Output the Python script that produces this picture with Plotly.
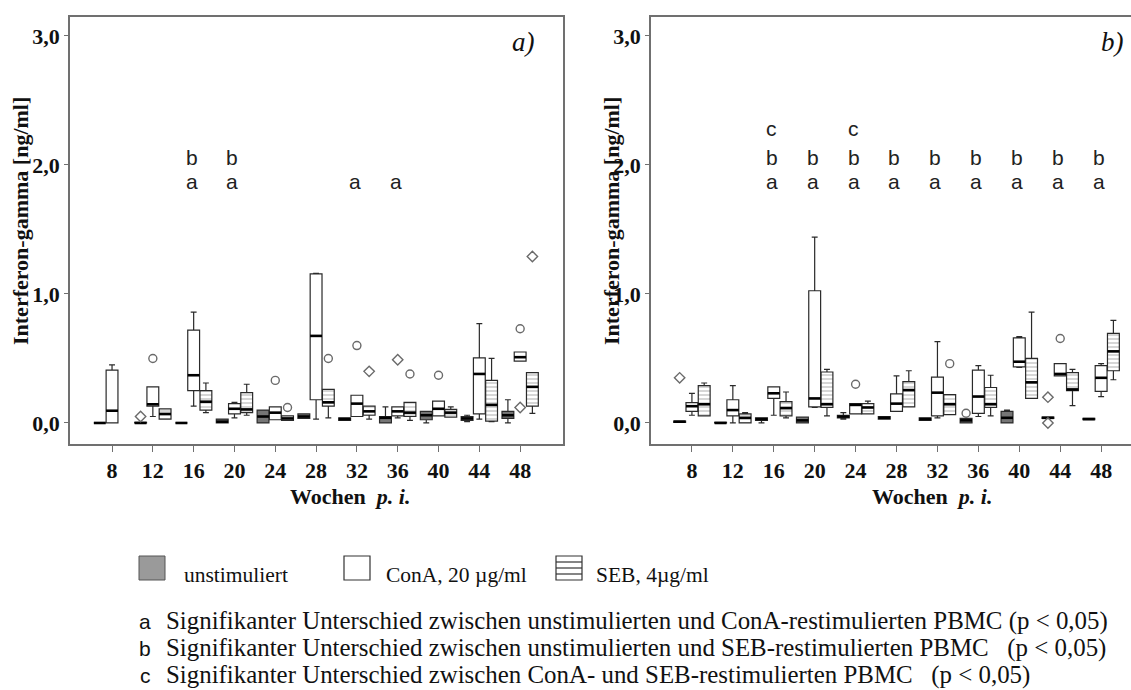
import plotly.graph_objects as go

W, H = 1131, 690

WEEKS = ["8", "12", "16", "20", "24", "28", "32", "36", "40", "44", "48"]
Y_TICKS = [0, 1, 2, 3]
Y_TICK_TEXT = ["0,0", "1,0", "2,0", "3,0"]

# ---- Panel a) : [q1, median, q3, lower whisker, upper whisker] per week (None = no box)
A_UNSTIM = [
    [0, 0, 0, 0, 0], [0, 0, 0.005, 0, 0.005], [0, 0, 0, 0, 0], [0, 0.01, 0.03, 0, 0.03],
    [0, 0.05, 0.10, 0, 0.10], [0.035, 0.05, 0.07, 0.035, 0.07], [0.02, 0.03, 0.04, 0.02, 0.04],
    [0, 0.04, 0.05, 0, 0.125], [0.025, 0.06, 0.09, 0, 0.09], [0.02, 0.035, 0.05, 0.01, 0.06],
    [0.035, 0.06, 0.09, 0, 0.18]]
A_CONA = [
    [0, 0.095, 0.41, 0, 0.45], [0.13, 0.145, 0.28, 0.05, 0.28], [0.25, 0.37, 0.72, 0.13, 0.86],
    [0.07, 0.11, 0.15, 0.04, 0.16], [0.025, 0.08, 0.125, 0.025, 0.125], [0.18, 0.675, 1.155, 0.03, 1.16],
    [0.05, 0.15, 0.215, 0.05, 0.215], [0.055, 0.09, 0.125, 0.04, 0.125], [0.055, 0.11, 0.17, 0.055, 0.17],
    [0.07, 0.38, 0.505, 0.03, 0.77], [0.48, 0.51, 0.55, 0.48, 0.55]]
A_SEB = [
    None, [0.03, 0.07, 0.11, 0.03, 0.11], [0.10, 0.165, 0.25, 0.08, 0.31], [0.08, 0.105, 0.235, 0.06, 0.30],
    [0.02, 0.035, 0.055, 0.02, 0.055], [0.13, 0.16, 0.26, 0.04, 0.26], [0.06, 0.09, 0.13, 0.03, 0.13],
    [0.05, 0.08, 0.16, 0.02, 0.16], [0.045, 0.08, 0.105, 0.045, 0.125], [0.015, 0.14, 0.33, 0.01, 0.50],
    [0.13, 0.28, 0.39, 0.075, 0.39]]
# outliers: week index, group (0 unstim, 1 ConA, 2 SEB), value, symbol
A_OUT_WEEK = [1, 1, 4, 4, 5, 6, 6, 7, 7, 8, 10, 10, 10]
A_OUT_GROUP = [0, 1, 1, 2, 2, 1, 2, 1, 2, 1, 1, 1, 2]
A_OUT_VAL = [0.05, 0.50, 0.33, 0.12, 0.50, 0.60, 0.40, 0.49, 0.38, 0.37, 0.73, 0.12, 1.29]
A_OUT_SYM = ["d", "o", "o", "o", "o", "o", "d", "d", "o", "o", "o", "d", "d"]
A_SIG_A = [2, 3, 6, 7]
A_SIG_B = [2, 3]
A_SIG_C = []

# ---- Panel b)
B_UNSTIM = [
    [0.005, 0.01, 0.015, 0.005, 0.015], [0, 0, 0.005, 0, 0.005], [0.02, 0.03, 0.04, 0, 0.04],
    [0, 0.02, 0.045, 0, 0.045], [0.04, 0.05, 0.06, 0.03, 0.08], [0.03, 0.04, 0.05, 0.03, 0.05],
    [0.02, 0.03, 0.04, 0.02, 0.04], [0, 0.02, 0.035, 0, 0.035], [0, 0.04, 0.09, 0, 0.10],
    [0.035, 0.04, 0.045, 0.035, 0.045], [0.025, 0.03, 0.035, 0.025, 0.035]]
B_CONA = [
    [0.09, 0.13, 0.157, 0.06, 0.23], [0.055, 0.10, 0.18, 0.0, 0.29], [0.19, 0.23, 0.28, 0.06, 0.28],
    [0.125, 0.19, 1.025, 0.12, 1.44], [0.07, 0.14, 0.15, 0.07, 0.15], [0.09, 0.15, 0.225, 0.09, 0.365],
    [0.055, 0.235, 0.355, 0.04, 0.63], [0.075, 0.205, 0.41, 0.05, 0.445], [0.435, 0.475, 0.66, 0.43, 0.67],
    [0.365, 0.38, 0.46, 0.365, 0.46], [0.245, 0.35, 0.445, 0.205, 0.46]]
B_SEB = [
    [0.055, 0.145, 0.29, 0.055, 0.31], [0.0, 0.04, 0.07, 0.0, 0.08], [0.055, 0.115, 0.165, 0.04, 0.24],
    [0.12, 0.145, 0.395, 0.055, 0.415], [0.07, 0.12, 0.15, 0.07, 0.17], [0.125, 0.255, 0.32, 0.125, 0.405],
    [0.065, 0.145, 0.22, 0.065, 0.22], [0.12, 0.145, 0.275, 0.055, 0.37], [0.19, 0.315, 0.50, 0.19, 0.86],
    [0.25, 0.26, 0.39, 0.135, 0.415], [0.405, 0.555, 0.695, 0.335, 0.795]]
B_OUT_WEEK = [0, 4, 6, 7, 9, 9, 9]
B_OUT_GROUP = [0, 1, 2, 0, 0, 0, 1]
B_OUT_VAL = [0.35, 0.30, 0.46, 0.075, 0.0, 0.20, 0.655]
B_OUT_SYM = ["d", "o", "o", "o", "d", "d", "o"]
B_SIG_A = [2, 3, 4, 5, 6, 7, 8, 9, 10]
B_SIG_B = [2, 3, 4, 5, 6, 7, 8, 9, 10]
B_SIG_C = [2, 4]

SIG_Y = {"a": 1.87, "b": 2.06, "c": 2.28}

# ---- styling
OFFS = [-0.3, 0.0, 0.3]
BW = 0.29
FILLS = ["#767676", "white", "rgba(0,0,0,0)"]
EDGE = "#2a2a2a"
AX = "#707070"
SERIF = "Liberation Serif"
SANS = "Liberation Sans"

fig = go.Figure()


def add_panel(xa, ya, groups, out_w, out_g, out_v, out_s, sig):
    # hatch underlay for SEB
    seb = groups[2]
    hx = [i + OFFS[2] for i, s in enumerate(seb) if s]
    hb = [s[0] for s in seb if s]
    hh = [s[2] - s[0] for s in seb if s]
    fig.add_trace(go.Bar(x=hx, y=hh, base=hb, width=BW, xaxis=xa, yaxis=ya,
                         marker=dict(color="white", line=dict(width=0),
                                     pattern=dict(shape="-", fgcolor="#8a8a8a", bgcolor="white",
                                                  size=4, solidity=0.35)),
                         showlegend=False, hoverinfo="skip"))
    for g, data in enumerate(groups):
        idx = [i for i, s in enumerate(data) if s]
        xs = [i + OFFS[g] for i in idx]
        fig.add_trace(go.Box(
            x=xs, q1=[data[i][0] for i in idx], median=[data[i][1] for i in idx],
            q3=[data[i][2] for i in idx], lowerfence=[data[i][3] for i in idx],
            upperfence=[data[i][4] for i in idx], width=BW, whiskerwidth=0.5,
            fillcolor=FILLS[g], line=dict(color=EDGE, width=1.2), boxpoints=False,
            xaxis=xa, yaxis=ya, showlegend=False))
        mx, my = [], []
        for i in idx:
            c = i + OFFS[g]
            mx += [c - BW / 2, c + BW / 2, None]
            my += [data[i][1], data[i][1], None]
        fig.add_trace(go.Scatter(x=mx, y=my, mode="lines", line=dict(color="black", width=2.6),
                                 xaxis=xa, yaxis=ya, showlegend=False, hoverinfo="skip"))
    sym = {"o": "circle-open", "d": "diamond-open"}
    fig.add_trace(go.Scatter(
        x=[w + OFFS[g] for w, g in zip(out_w, out_g)], y=out_v, mode="markers",
        marker=dict(symbol=[sym[s] for s in out_s], size=8, color="#6a6a6a", line=dict(width=1.4)),
        xaxis=xa, yaxis=ya, showlegend=False))
    for letter, lst in sig.items():
        for i in lst:
            fig.add_annotation(x=i - 0.05, y=SIG_Y[letter], xref=xa, yref=ya, text=letter, showarrow=False,
                               font=dict(family=SANS, size=21, color="#222"), xanchor="center",
                               yanchor="middle")


add_panel("x", "y", [A_UNSTIM, A_CONA, A_SEB], A_OUT_WEEK, A_OUT_GROUP, A_OUT_VAL, A_OUT_SYM,
          {"a": A_SIG_A, "b": A_SIG_B, "c": A_SIG_C})
add_panel("x2", "y2", [B_UNSTIM, B_CONA, B_SEB], B_OUT_WEEK, B_OUT_GROUP, B_OUT_VAL, B_OUT_SYM,
          {"a": B_SIG_A, "b": B_SIG_B, "c": B_SIG_C})


def px(x):
    return x / W


def py(y):
    return 1 - y / H


ydom = [py(444), py(17)]
tickfont = dict(family=SERIF, size=22, color="#111", weight="bold")
xcommon = dict(tickmode="array", tickvals=list(range(len(WEEKS))), ticktext=WEEKS, ticks="outside",
               ticklen=6, tickcolor=AX, showline=True, linecolor=AX, linewidth=1.5, showgrid=False,
               zeroline=False, tickfont=tickfont, mirror=True)
ycommon = dict(range=[-0.163, 3.147], tickmode="array", tickvals=Y_TICKS, ticktext=Y_TICK_TEXT,
               ticks="outside", ticklen=4, tickcolor=AX, showline=True, linecolor=AX, linewidth=1.5,
               showgrid=False, zeroline=False, tickfont=tickfont)

fig.update_layout(
    width=W, height=H, margin=dict(l=0, r=0, t=0, b=0), plot_bgcolor="white", paper_bgcolor="white",
    boxmode="overlay", barmode="overlay", showlegend=False,
    xaxis=dict(domain=[px(70), px(563)], range=[-1.03, 11.05], anchor="y", **xcommon),
    yaxis=dict(domain=ydom, anchor="x", mirror=True, **ycommon),
    xaxis2=dict(domain=[px(651), 1.0], range=[-1.0, 10.73], anchor="y2", **xcommon),
    yaxis2=dict(domain=ydom, anchor="x2", mirror=False, **ycommon),
)

# panel letters and axis titles
for xc, lab in [(537, "a)"), (1126, "b)")]:
    fig.add_annotation(x=px(xc), y=py(42), xref="paper", yref="paper", text=f"<i>{lab}</i>",
                       showarrow=False, xanchor="right", yanchor="middle",
                       font=dict(family=SERIF, size=27, color="#111"))
for xc in [350, 932]:
    fig.add_annotation(x=px(xc), y=py(496), xref="paper", yref="paper",
                       text="<b>Wochen  <i>p. i.</i></b>", showarrow=False, xanchor="center",
                       yanchor="middle", font=dict(family=SERIF, size=22, color="#111"))
for xc in [20, 611]:
    fig.add_annotation(x=px(xc), y=py(221), xref="paper", yref="paper",
                       text="<b>Interferon-gamma [ng/ml]</b>", textangle=-90, showarrow=False,
                       xanchor="center", yanchor="middle", font=dict(family=SERIF, size=22, color="#111"))

# legend (drawn)
LEG_LABELS = ["unstimuliert", "ConA, 20 µg/ml", "SEB, 4µg/ml"]
LEG_SW_X = [139, 344, 556]
LEG_TX_X = [182, 384, 594]
sw_top, sw_bot = 556, 580
shapes = []
shapes.append(dict(type="rect", xref="paper", yref="paper", x0=px(LEG_SW_X[0]), x1=px(LEG_SW_X[0] + 26),
                   y0=py(sw_bot), y1=py(sw_top), fillcolor="#9a9a9a", line=dict(color="#555", width=1)))
shapes.append(dict(type="rect", xref="paper", yref="paper", x0=px(LEG_SW_X[1]), x1=px(LEG_SW_X[1] + 26),
                   y0=py(sw_bot), y1=py(sw_top), fillcolor="white", line=dict(color="#333", width=1.2)))
shapes.append(dict(type="rect", xref="paper", yref="paper", x0=px(LEG_SW_X[2]), x1=px(LEG_SW_X[2] + 26),
                   y0=py(sw_bot), y1=py(sw_top), fillcolor="white", line=dict(color="#333", width=1.2)))
for k in range(1, 4):
    yy = sw_top + k * (sw_bot - sw_top) / 4
    shapes.append(dict(type="line", xref="paper", yref="paper", x0=px(LEG_SW_X[2]), x1=px(LEG_SW_X[2] + 26),
                       y0=py(yy), y1=py(yy), line=dict(color="#333", width=1.2)))
fig.update_layout(shapes=shapes)
for lab, xt in zip(LEG_LABELS, LEG_TX_X):
    fig.add_annotation(x=px(xt), y=py(575), xref="paper", yref="paper", text=lab, showarrow=False,
                       xanchor="left", yanchor="middle", font=dict(family=SERIF, size=21.5, color="#111"))

NOTE_KEYS = ["a", "b", "c"]
NOTE_TEXT = [
    "Signifikanter Unterschied zwischen unstimulierten und ConA-restimulierten PBMC (p &lt; 0,05)",
    "Signifikanter Unterschied zwischen unstimulierten und SEB-restimulierten PBMC   (p &lt; 0,05)",
    "Signifikanter Unterschied zwischen ConA- und SEB-restimulierten PBMC   (p &lt; 0,05)",
]
NOTE_Y = [621, 648, 675]
for key, txt, yy in zip(NOTE_KEYS, NOTE_TEXT, NOTE_Y):
    fig.add_annotation(x=px(145), y=py(yy), xref="paper", yref="paper", text=key, showarrow=False,
                       xanchor="center", yanchor="middle", font=dict(family=SANS, size=21, color="#111"))
    fig.add_annotation(x=px(164), y=py(yy), xref="paper", yref="paper", text=txt, showarrow=False,
                       xanchor="left", yanchor="middle", font=dict(family=SERIF, size=24.9, color="#111"))

fig.write_html("out.html", config={"displayModeBar": False},
               post_script="document.body.style.margin='0px';document.body.style.overflow='hidden';")
